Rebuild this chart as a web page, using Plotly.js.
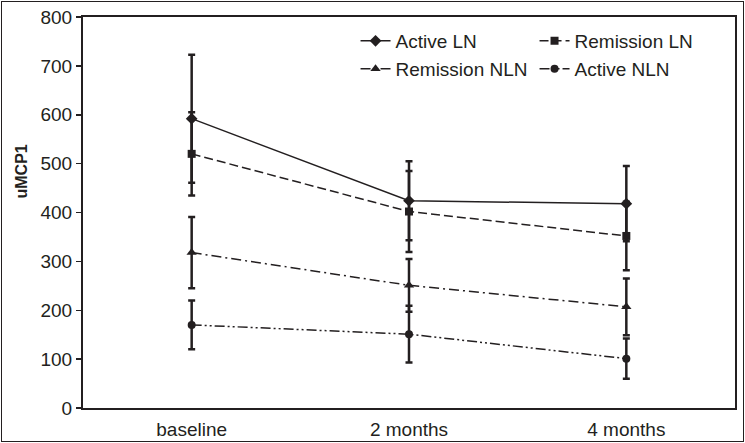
<!DOCTYPE html>
<html>
<head>
<meta charset="utf-8">
<script src="https://cdn.plot.ly/plotly-3.0.1.min.js"></script>
<style>
  html, body { margin: 0; padding: 0; background: #fff; }
  #wrap { position: relative; width: 745px; height: 443px; }
  #chart { width: 745px; height: 443px; }
  #frame { position: absolute; left: 1px; top: 1px; right: 1px; bottom: 1px;
           border: 1.5px solid #231f20; pointer-events: none; }
</style>
</head>
<body>
<div id="wrap"><div id="chart"></div><div id="frame"></div></div>
<script>
const categories = ["baseline", "2 months", "4 months"];

const activeLN        = [592, 424, 418];
const activeLNErr     = [131, 81, 77];
const remissionLN     = [520, 402, 352];
const remissionLNErr  = [85, 83, 70];
const remissionNLN    = [318, 251, 207];
const remissionNLNErr = [73, 54, 58];
const activeNLN       = [170, 151, 101];
const activeNLNErr    = [50, 58, 41];

const yTickVals = [0, 100, 200, 300, 400, 500, 600, 700, 800];

const INK = "#231f20";
const FONT = "Liberation Sans, Arial, sans-serif";

function series(name, y, err, symbol, size, dash, legend) {
  return {
    type: "scatter", mode: "lines+markers", name: name,
    x: categories, y: y,
    line: { color: INK, width: 1.5, dash: dash },
    marker: { symbol: symbol, size: size, color: INK },
    error_y: { type: "data", array: err, visible: true, color: INK, thickness: 2.5, width: 3.5 },
    legend: legend
  };
}

const data = [
  series("Active LN", activeLN, activeLNErr, "diamond", 9, "solid", "legend"),
  series("Remission LN", remissionLN, remissionLNErr, "square", 8, "9px,4px", "legend"),
  series("Remission NLN", remissionNLN, remissionNLNErr, "triangle-up", 9, "10px,4px,2px,4px", "legend2"),
  series("Active NLN", activeNLN, activeNLNErr, "circle", 8, "10px,3px,2px,3px,2px,3px", "legend2")
];

const legendCommon = {
  orientation: "h", xanchor: "left", yanchor: "middle",
  x: 0.418, bgcolor: "rgba(0,0,0,0)", borderwidth: 0,
  font: { family: FONT, size: 19, color: INK },
  entrywidth: 134, entrywidthmode: "pixels", itemwidth: 30
};

const layout = {
  width: 745, height: 443,
  margin: { l: 83, r: 10, t: 17, b: 35 },
  paper_bgcolor: "#fff", plot_bgcolor: "#fff",
  font: { family: FONT, size: 19, color: INK },
  showlegend: true,
  legend: Object.assign({}, legendCommon, { y: 0.9386 }),
  legend2: Object.assign({}, legendCommon, { y: 0.867 }),
  xaxis: {
    type: "category", range: [-0.5, 2.5],
    showline: true, mirror: true, linecolor: INK, linewidth: 2,
    ticks: "", showgrid: false, zeroline: false,
    ticklabelstandoff: 3,
    tickfont: { family: FONT, size: 19, color: INK }
  },
  yaxis: {
    range: [0, 800], tickvals: yTickVals, ticktext: yTickVals.map(String),
    showline: true, mirror: true, linecolor: INK, linewidth: 2,
    ticks: "outside", ticklen: 5, tickwidth: 1.5, tickcolor: INK,
    showgrid: false, zeroline: false,
    tickfont: { family: FONT, size: 19, color: INK }
  },
  annotations: [{
    text: "<b>uMCP1</b>", textangle: -90, showarrow: false,
    xref: "paper", yref: "paper", x: -0.095, y: 0.605,
    xanchor: "center", yanchor: "middle",
    font: { family: FONT, size: 16, color: INK }
  }]
};

Plotly.newPlot("chart", data, layout, { displayModeBar: false, staticPlot: true });
</script>
</body>
</html>
